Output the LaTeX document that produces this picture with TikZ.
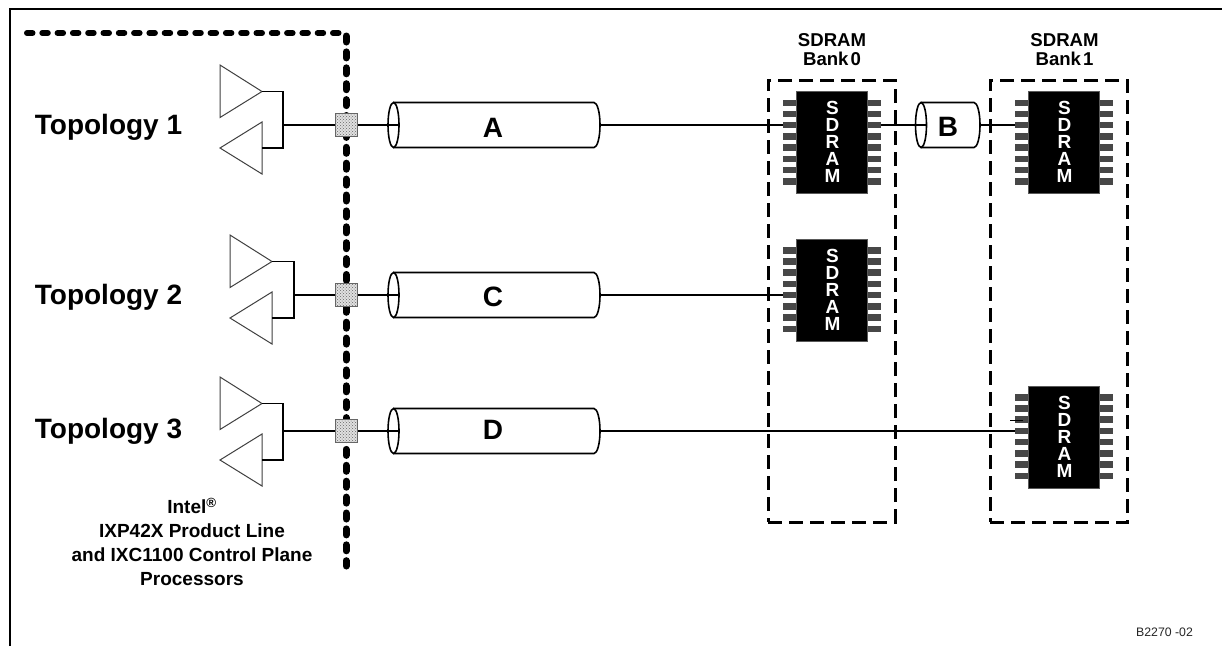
\documentclass[tikz,border=0pt]{standalone}
\usepackage{fontspec}
\usetikzlibrary{patterns}
\setmainfont{Liberation Sans}
\tikzset{
  wire/.style={line width=1.4pt,black},
  amp/.style={line width=1pt,draw=black!75,fill=white,line join=miter},
  cylline/.style={line width=1.6pt,black},
  bankbox/.style={draw,black,line width=3pt,dash pattern=on 14pt off 7pt,inner sep=0pt,rectangle},
  pkg/.style={draw=black!65,line width=1pt,fill=black,inner sep=0pt,minimum width=71pt,minimum height=102pt,rectangle},
  pinpad/.style={fill=black!72,draw=none,inner sep=0pt,minimum width=14.5pt,minimum height=6.5pt,rectangle},
  term/.style={draw=black!60,line width=1pt,preaction={fill=black!12},pattern=crosshatch dots,pattern color=black!60,inner sep=0pt,minimum width=22pt,minimum height=23pt,rectangle},
  cylbody/.style={draw=none,inner sep=0pt,rectangle},
  biglabel/.style={font=\bfseries\fontsize{28}{30}\selectfont,anchor=center,inner sep=0pt},
  cyllabel/.style={font=\bfseries\fontsize{28}{30}\selectfont,inner sep=0pt},
  banklabel/.style={font=\bfseries\fontsize{18.6}{19.5}\selectfont,align=center,inner sep=0pt},
  proclabel/.style={font=\bfseries\fontsize{19}{24}\selectfont,align=center,inner sep=0pt},
  chiptext/.style={font=\bfseries\fontsize{19}{17}\selectfont,text=white,align=center,inner sep=0pt},
}
% \ampset{id}{x left}{x right}{x join}{y top tip}{y mid}{y low tip}
\newcommand{\ampset}[7]{%
  \draw[amp] (#2,#5-26.5) -- (#2,#5+26) -- (#3,#5) -- cycle;
  \draw[amp] (#2,#7) -- (#3,#7-26) -- (#3,#7+26) -- cycle;
  \coordinate (#1tx) at (#3,#5);
  \coordinate (#1bx) at (#3,#7);
  \coordinate (#1j) at (#4,#6);
  \draw[wire,line width=1.6pt] (#1tx) -| (#1j) |- (#1bx);
}
% \cylndr{id}{x left centre}{x right centre}{y mid}{label}{label x}{label y}
\newcommand{\cylndr}[7]{%
  \node[cylbody,minimum width=#3pt-#2pt,minimum height=45pt] (#1) at ({(#2+#3)/2},#4) {};
  \draw[cylline] (#2,#4-22.5) -- (#3,#4-22.5) arc[start angle=90,end angle=-90,x radius=6pt,y radius=22.5pt] -- (#2,#4+22.5);
  \draw[cylline] (#2,#4) ellipse[x radius=5.5pt,y radius=22.5pt];
  \coordinate (#1in) at (#2+5.5,#4);
  \coordinate (#1out) at (#3+6,#4);
  \node[cyllabel] (#1t) at (#6,#7) {#5};
}
% \chip{id}{x centre}{y top}
\newcommand{\chip}[3]{%
  \foreach \k/\d in {1/10.7,2/21.7,3/32.7,4/44,5/55,6/66.5,7/77.5,8/89}{
    \node[pinpad] (#1L\k) at (#2-42,#3+\d) {};
    \node[pinpad] (#1R\k) at (#2+42,#3+\d) {};
  }
  \node[pkg] (#1) at (#2,#3+50.5) {};
  \node[chiptext] (#1t) at (#2+0.5,#3+50) {S\\D\\R\\A\\M};
}
\begin{document}
\begin{tikzpicture}[x=1pt,y=-1pt]
\useasboundingbox (0,0) rectangle (1222,646);
\fill[white] (0,0) rectangle (1222,646);
% frame
\coordinate (frameA) at (10,646);
\coordinate (frameB) at (10,9);
\coordinate (frameC) at (1222,9);
\draw[line width=2pt,black] (frameA) -- (frameB) -- (frameC);
% chip boundary
\coordinate (bndA) at (27,33);
\coordinate (bndB) at (343,33);
\coordinate (bndC) at (346,36);
\coordinate (bndD) at (346,566);
\draw[line width=6pt,line cap=round,dash pattern=on 5.5pt off 9.8pt,black] (bndA) -- (bndB);
\draw[line width=7pt,line cap=round,dash pattern=on 6pt off 9.9pt,black] (bndC) -- (bndD);
% bank boxes
\node[bankbox,minimum width=127pt,minimum height=442pt] (bank0) at (831.5,301) {};
\node[bankbox,minimum width=137.5pt,minimum height=442pt] (bank1) at (1058.8,301) {};
\node[banklabel] (bank0t) at (832,49.5) {SDRAM\\Bank\kern2pt 0};
\node[banklabel] (bank1t) at (1064.5,49.5) {SDRAM\\Bank\kern2pt 1};
% amplifiers
\ampset{a}{220}{262}{283}{91.5}{125}{148}
\ampset{b}{230}{272}{294}{261.5}{295}{318}
\ampset{c}{220}{262}{283}{403.5}{431}{460}
% cylinders
\cylndr{cylA}{393.5}{594}{125}{A}{493}{128}
\cylndr{cylC}{393.5}{594}{295}{C}{493}{297}
\cylndr{cylD}{393.5}{594}{431}{D}{493}{430}
\cylndr{cylB}{921}{974}{125}{B}{948}{127}
% chips
\chip{ua}{832}{92.3}
\chip{ub}{1064}{92.3}
\chip{uc}{832}{240}
\chip{ud}{1064}{387}
% terminals
\node[term] (ta) at (346,125) {};
\node[term] (tb) at (346,295) {};
\node[term] (tc) at (346,431) {};
% wires
\draw[wire] (aj) -- (ta) -- (cylAin);
\draw[wire] (bj) -- (tb) -- (cylCin);
\draw[wire] (cj) -- (tc) -- (cylDin);
\draw[wire] (cylAout) -- (uaL3.west);
\draw[wire] (uaR3.east) -- (cylBin);
\draw[wire] (cylBout) -- (ubL3.west);
\draw[wire] (cylCout) -- (ucL5.west);
\draw[wire] (cylDout) -- (udL4.west);
\coordinate (stubA) at (1010,420.5);
\coordinate (stubB) at (1023,420.5);
\draw[wire] (stubA) -- (stubB);
% text
\node[biglabel] (t1) at (108.5,127) {Topology 1};
\node[biglabel] (t2) at (108.5,297) {Topology 2};
\node[biglabel] (t3) at (108.5,431) {Topology 3};
\node[proclabel] (proc) at (192,542) {Intel\textsuperscript{\textregistered}\\IXP42X Product Line\\and IXC1100 Control Plane\\Processors};
\node[font=\fontsize{12.3}{14}\selectfont,inner sep=0pt,black!85] (fig) at (1164.5,632) {B2270 -02};
\end{tikzpicture}
\end{document}
